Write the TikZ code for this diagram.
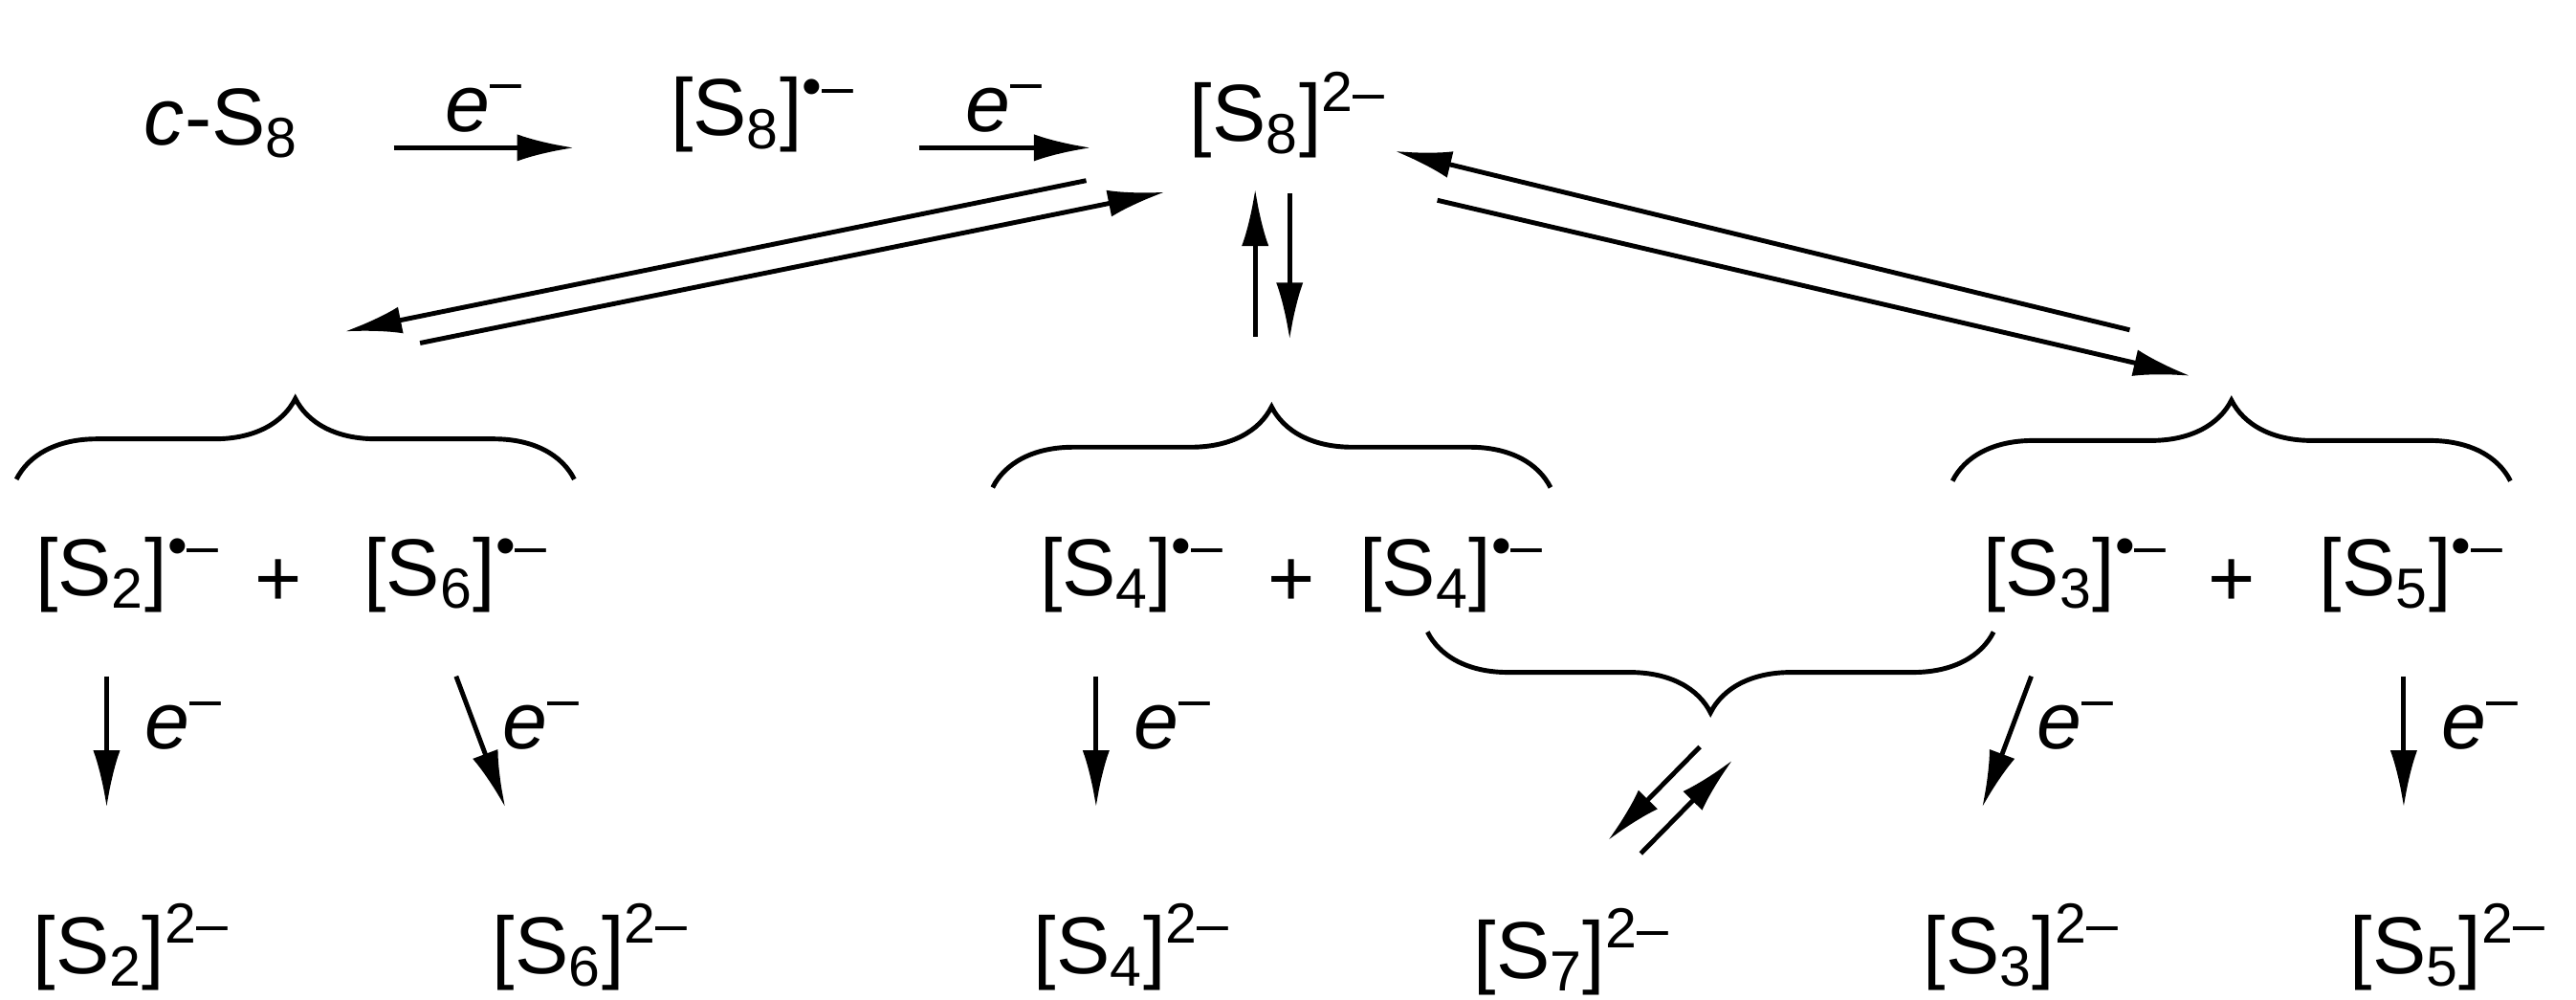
\documentclass[tikz,border=0pt]{standalone}
\usepackage{fontspec}
\setmainfont{Liberation Sans}
\usetikzlibrary{arrows.meta,decorations.pathreplacing}
\newcommand{\rad}{\textsuperscript{•–}}
\newcommand{\dia}{\textsuperscript{2–}}
\newcommand{\Sx}[1]{[S\textsubscript{#1}]}
\begin{document}
\begin{tikzpicture}[x=0.1715mm,y=-0.1715mm,
  every node/.style={font=\fontsize{24}{27}\selectfont, inner sep=1pt},
  arr/.style={line width=1.4pt,-{Latex[length=17pt,width=8pt]}},
  brc/.style={line width=1.4pt,decorate,decoration={brace,amplitude=24pt}}]
\useasboundingbox (0,0) rectangle (1570,609);
\node (c8) at (135,75) {\textit{c}-S\textsubscript{8}};
\node (r8) at (465,70) {\Sx{8}\rad};
\node (d8) at (785,70) {\Sx{8}\dia};
\coordinate (a1s) at (240,90); \coordinate (a1e) at (350,90);
\draw[arr] (a1s) -- (a1e) node[midway,above=3pt] (e1) {\textit{e}\textsuperscript{–}};
\coordinate (a2s) at (560,90); \coordinate (a2e) at (665,90);
\draw[arr] (a2s) -- (a2e) node[midway,above=3pt] (e2) {\textit{e}\textsuperscript{–}};
% equilibria from S8 2-
\coordinate (L1) at (662,110); \coordinate (L2) at (210,202);
\coordinate (L3) at (256,209); \coordinate (L4) at (710,117);
\draw[arr] (L1) -- (L2); \draw[arr] (L3) -- (L4);
\coordinate (M1) at (765,205); \coordinate (M2) at (765,115);
\coordinate (M3) at (786,118); \coordinate (M4) at (786,207);
\draw[arr] (M1) -- (M2); \draw[arr] (M3) -- (M4);
\coordinate (R1) at (1298,201); \coordinate (R2) at (850,92);
\coordinate (R3) at (876,122); \coordinate (R4) at (1335,229);
\draw[arr] (R1) -- (R2); \draw[arr] (R3) -- (R4);
% braces
\draw[brc] (10,292) -- (350,292);
\draw[brc] (605,297) -- (945,297);
\draw[brc] (1190,293) -- (1530,293);
\draw[brc] (1215,385) -- (870,385);
% row 2
\node (s2r) at (78,350) {\Sx{2}\rad};
\node (p1) at (170,355) {+};
\node (s6r) at (278,350) {\Sx{6}\rad};
\node (s4r) at (690,350) {\Sx{4}\rad};
\node (p2) at (787,355) {+};
\node (s4r2) at (885,350) {\Sx{4}\rad};
\node (s3r) at (1265,350) {\Sx{3}\rad};
\node (p3) at (1360,355) {+};
\node (s5r) at (1470,350) {\Sx{5}\rad};
% row 3
\node (s2d) at (80,577) {\Sx{2}\dia};
\node (s6d) at (360,577) {\Sx{6}\dia};
\node (s4d) at (690,577) {\Sx{4}\dia};
\node (s7d) at (958,580) {\Sx{7}\dia};
\node (s3d) at (1232,577) {\Sx{3}\dia};
\node (s5d) at (1492,577) {\Sx{5}\dia};
% reductions
\coordinate (d1a) at (65,412); \coordinate (d1b) at (65,492);
\draw[arr] (d1a) -- (d1b); \node (e3) at (112,442) {\textit{e}\textsuperscript{–}};
\coordinate (d2a) at (278,412); \coordinate (d2b) at (308,492);
\draw[arr] (d2a) -- (d2b); \node (e4) at (330,442) {\textit{e}\textsuperscript{–}};
\coordinate (d3a) at (668,412); \coordinate (d3b) at (668,492);
\draw[arr] (d3a) -- (d3b); \node (e5) at (715,442) {\textit{e}\textsuperscript{–}};
\coordinate (d4a) at (1238,412); \coordinate (d4b) at (1208,492);
\draw[arr] (d4a) -- (d4b); \node (e6) at (1265,442) {\textit{e}\textsuperscript{–}};
\coordinate (d5a) at (1465,412); \coordinate (d5b) at (1465,492);
\draw[arr] (d5a) -- (d5b); \node (e7) at (1512,442) {\textit{e}\textsuperscript{–}};
% S7 equilibrium
\coordinate (q1) at (1036,455); \coordinate (q2) at (980,512);
\coordinate (q3) at (1000,520); \coordinate (q4) at (1056,463);
\draw[arr] (q1) -- (q2); \draw[arr] (q3) -- (q4);
\end{tikzpicture}
\end{document}
